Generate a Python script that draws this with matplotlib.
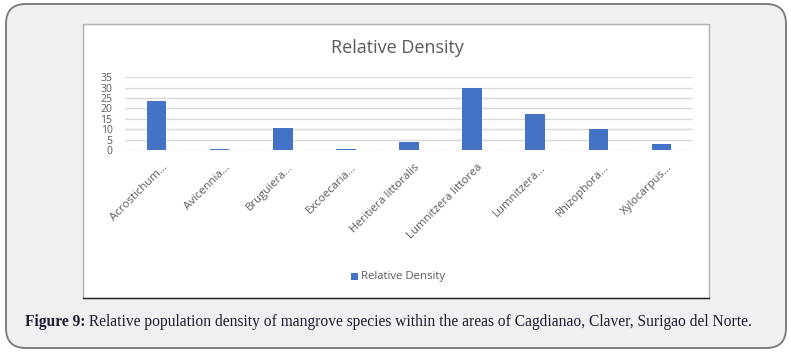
import matplotlib
matplotlib.use("Agg")
import matplotlib.pyplot as plt
from matplotlib.patches import FancyBboxPatch, Rectangle
from matplotlib.lines import Line2D
from matplotlib.transforms import ScaledTranslation

categories = ["Acrostichum…", "Avicennia…", "Bruguiera…", "Excoecaria…",
              "Heritiera littoralis", "Lumnitzera littorea", "Lumnitzera…",
              "Rhizophora…", "Xylocarpus…"]
values = [23.5, 0.5, 10.4, 0.5, 4.0, 29.8, 17.4, 10.1, 2.9]
yticks = [0, 5, 10, 15, 20, 25, 30, 35]
series_name = "Relative Density"
caption_bold = "Figure 9:"
caption_rest = " Relative population density of mangrove species within the areas of Cagdianao, Claver, Surigao del Norte."

W, H = 791, 353
fig = plt.figure(figsize=(W / 100, H / 100), dpi=100)
fig.patch.set_facecolor("white")

def fx(px):
    return px / W

def fy(py):
    return 1 - py / H

# outer rounded panel
outer = FancyBboxPatch((fx(6), fy(348)), fx(780), 344 / H,
                       boxstyle="round,pad=0,rounding_size=0.025",
                       transform=fig.transFigure, facecolor="#f0f0f0",
                       edgecolor="#7f7f7f", linewidth=1.4, mutation_aspect=W / H)
fig.patches.append(outer)

# inner white chart image
inner = Rectangle((fx(83), fy(298)), fx(626), 274 / H, transform=fig.transFigure,
                  facecolor="white", edgecolor="#b0b0b0", linewidth=1.0)
fig.patches.append(inner)
fig.lines.append(Line2D([fx(83), fx(709)], [fy(298), fy(298)], transform=fig.transFigure,
                        color="#222222", linewidth=1.0))

ax = fig.add_axes([fx(125), fy(150), fx(693) - fx(125), (150 - 77.3) / H])
ax.set_zorder(5)
ax.set_facecolor("white")
x = list(range(len(categories)))
ax.bar(x, values, width=0.31, color="#4472c4", zorder=3, label=series_name)
ax.set_xlim(-0.5, len(categories) - 0.5)
ax.set_ylim(0, 35)
ax.set_yticks(yticks)
ax.set_yticklabels([str(t) for t in yticks])
ax.yaxis.grid(True, color="#d9d9d9", linewidth=1.0, zorder=0)
ax.set_axisbelow(True)
for s in ax.spines.values():
    s.set_visible(False)
ax.tick_params(axis="both", length=0, labelsize=7.5, labelcolor="#595959")
ax.tick_params(axis="y", pad=9)
ax.set_xticks(x)
ax.set_xticklabels(categories, rotation=45, ha="right", va="center", rotation_mode="anchor",
                   fontsize=8.2, color="#595959", fontfamily="Open Sans")
ax.tick_params(axis="x", pad=0)
off = ScaledTranslation(9 / 100, -16 / 100, fig.dpi_scale_trans)
for lab in ax.get_xticklabels():
    lab.set_transform(lab.get_transform() + off)
for lab in ax.get_yticklabels():
    lab.set_fontfamily("Open Sans")

fig.text(fx(397), fy(48), "Relative Density", ha="center", va="center",
         fontsize=13, color="#595959", fontfamily="Open Sans")

# legend
fig.patches.append(Rectangle((fx(351), fy(279.5)), fx(7), 7 / H, transform=fig.transFigure,
                             facecolor="#4472c4", edgecolor="none"))
fig.text(fx(361), fy(276), series_name, ha="left", va="center", fontsize=8.2,
         color="#595959", fontfamily="Open Sans")

# caption
t1 = fig.text(fx(25), fy(322), caption_bold, ha="left", va="center", fontsize=11.2,
              color="#1c1c33", fontfamily="Liberation Serif", fontweight="bold")
fig.canvas.draw()
bb = t1.get_window_extent()
fig.text(bb.x1 / W, fy(322), caption_rest, ha="left", va="center", fontsize=11.2,
         color="#1c1c33", fontfamily="Liberation Serif")

fig.savefig("out.png", dpi=100)
